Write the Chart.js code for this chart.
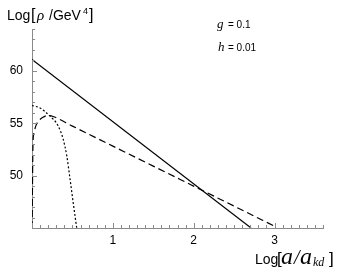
<!DOCTYPE html>
<html>
<head>
<meta charset="utf-8">
<script src="https://cdn.jsdelivr.net/npm/chart.js@4/dist/chart.umd.min.js"></script>
<style>
  html, body { margin: 0; padding: 0; background: #fff; }
  #wrap { width: 340px; height: 272px; }
</style>
</head>
<body>
<div id="wrap"><canvas id="c" width="340" height="272"></canvas></div>
<script>
// axis ranges
const xRange = [0, 3.6];
const yRange = [45, 64];

// solid line
const solidX = [0, 2.71];
const solidY = [61.1, 45];

// dashed curve
const dashedX = [0.002, 0.006, 0.012, 0.025, 0.05, 0.08, 0.13, 0.2, 0.26, 0.5, 1, 1.5, 2, 2.5, 3.02];
const dashedY = [45, 49, 53, 54.1, 54.8, 55.2, 55.55, 55.75, 55.65, 54.73, 52.82, 50.91, 49.0, 47.09, 45.1];

// dotted curve
const dottedX = [0, 0.1, 0.22, 0.32, 0.385, 0.43, 0.47, 0.51, 0.555];
const dottedY = [56.7, 56.45, 55.7, 54.8, 53.5, 51.9, 49.7, 47.4, 44.9];

const pts = (xs, ys) => xs.map((x, i) => ({ x: x, y: ys[i] }));

const SANS = "'Liberation Sans', Arial, sans-serif";
const SERIF = "'Liberation Serif', 'Times New Roman', serif";
const AXIS = "#8a8a8a";

// Mathematica-style inward ticks + free text
const decor = {
  id: "decor",
  afterDraw(chart) {
    const ctx = chart.ctx;
    const xs = chart.scales.x, ys = chart.scales.y;
    const area = chart.chartArea;
    ctx.save();
    ctx.strokeStyle = AXIS;
    ctx.lineWidth = 1;
    ctx.beginPath();
    for (let i = 0; i <= 36; i++) {
      const px = Math.round(xs.getPixelForValue(i / 10)) + 0.5;
      const len = i % 10 === 0 ? 5 : 3;
      ctx.moveTo(px, area.bottom);
      ctx.lineTo(px, area.bottom - len);
    }
    for (let v = 45; v <= 64; v++) {
      const py = Math.round(ys.getPixelForValue(v)) + 0.5;
      const len = v % 5 === 0 ? 5 : 3;
      ctx.moveTo(area.left, py);
      ctx.lineTo(area.left + len, py);
    }
    ctx.stroke();

    ctx.fillStyle = "#000";
    ctx.textBaseline = "alphabetic";
    ctx.textAlign = "left";
    const put = (t, x, y, font) => { ctx.font = font; ctx.fillText(t, x, y); };

    // y title
    put("Log", 7, 20, "14px " + SANS);
    put("[", 31, 20, "16px " + SANS);
    put("\u03c1", 37, 20, "italic 15px " + SERIF);
    put("/GeV", 49, 20, "14px " + SANS);
    put("4", 83, 14, "9px " + SANS);
    put("]", 89, 20, "16px " + SANS);

    // parameters
    put("g", 217, 28, "italic 13px " + SERIF);
    put("= 0.1", 228, 28, "10px " + SANS);
    put("h", 218, 51, "italic 13px " + SERIF);
    put("= 0.01", 228, 51, "10px " + SANS);

    // x title
    put("Log", 255, 264, "14px " + SANS);
    put("[", 277, 264, "17px " + SANS);
    put("a", 281, 264, "italic 24px " + SERIF);
    put("/", 294, 264, "italic 20px " + SERIF);
    put("a", 300, 264, "italic 24px " + SERIF);
    put("kd", 313, 266, "italic 12px " + SERIF);
    put("]", 329, 264, "17px " + SANS);
    ctx.restore();
  }
};

new Chart(document.getElementById("c"), {
  type: "scatter",
  data: {
    datasets: [
      {
        data: pts(solidX, solidY),
        showLine: true,
        borderColor: "#000",
        borderWidth: 1.2,
        pointRadius: 0,
      },
      {
        data: pts(dashedX, dashedY),
        showLine: true,
        borderColor: "#000",
        borderWidth: 1.2,
        borderDash: [7, 4],
        cubicInterpolationMode: "monotone",
        pointRadius: 0,
      },
      {
        data: pts(dottedX, dottedY),
        showLine: true,
        borderColor: "#000",
        borderWidth: 1.2,
        borderDash: [2, 2],
        cubicInterpolationMode: "monotone",
        pointRadius: 0,
      },
    ],
  },
  options: {
    responsive: false,
    animation: false,
    events: [],
    layout: { padding: { top: 29, right: 17, left: 0, bottom: 0 } },
    plugins: { legend: { display: false }, tooltip: { enabled: false } },
    scales: {
      x: {
        type: "linear",
        min: xRange[0],
        max: xRange[1],
        afterFit: (s) => { s.height = 44; },
        grid: { display: true, drawOnChartArea: false, drawTicks: false },
        border: { display: true, color: AXIS, width: 1 },
        ticks: {
          stepSize: 1,
          includeBounds: false,
          padding: 5,
          color: "#000",
          font: { family: SANS, size: 12 },
          callback: (v) => (v > 0 && Number.isInteger(v) ? String(v) : ""),
        },
      },
      y: {
        type: "linear",
        min: yRange[0],
        max: yRange[1],
        afterFit: (s) => { s.width = 32; },
        grid: { display: true, drawOnChartArea: false, drawTicks: false },
        border: { display: true, color: AXIS, width: 1 },
        ticks: {
          stepSize: 5,
          includeBounds: false,
          padding: 9,
          color: "#000",
          font: { family: SANS, size: 12 },
          callback: (v) => (v > 45 && v % 5 === 0 ? String(v) : ""),
        },
      },
    },
  },
  plugins: [decor],
});
</script>
</body>
</html>
